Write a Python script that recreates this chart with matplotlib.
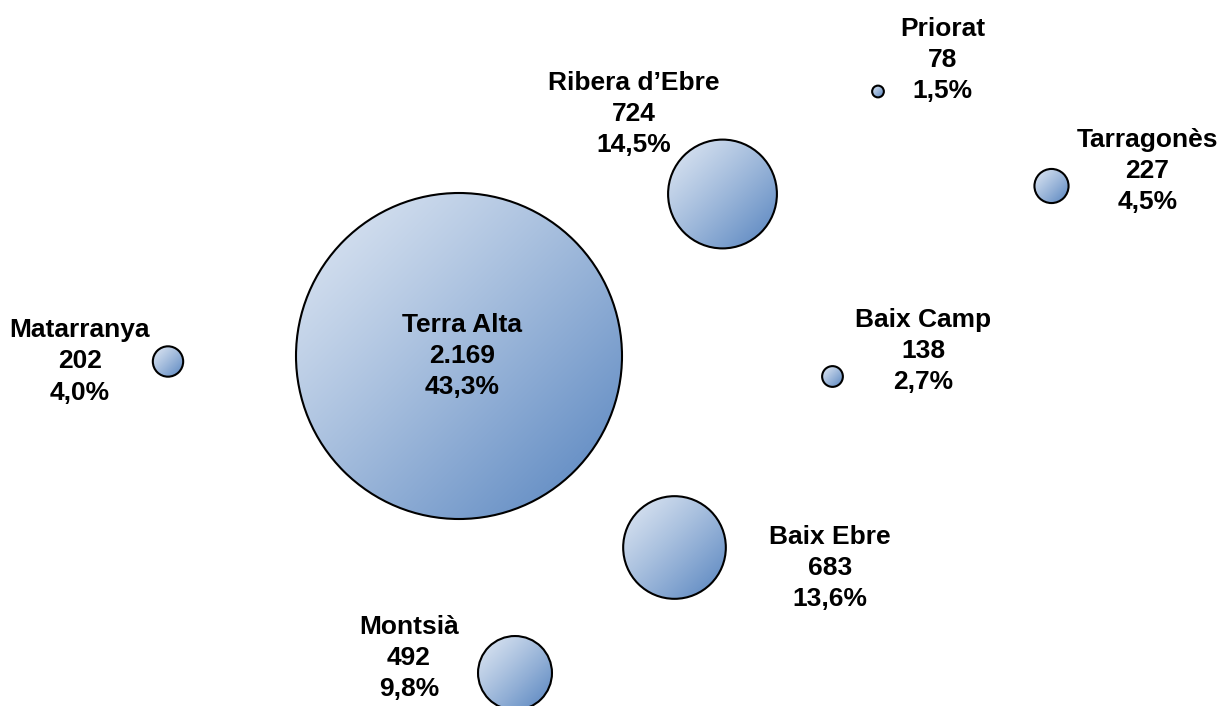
import numpy as np
import matplotlib
matplotlib.use('Agg')
import matplotlib.pyplot as plt
from matplotlib.patches import Circle

# comarques, x / y position of each bubble, count and share (%)
comarques = ['Terra Alta', 'Ribera d\u2019Ebre', 'Priorat', 'Tarragon\u00e8s',
             'Matarranya', 'Baix Camp', 'Baix Ebre', 'Montsi\u00e0']
xpos = [45.9, 72.25, 87.8, 105.15, 16.8, 83.25, 67.45, 51.5]
ypos = [35.0, 51.2, 61.45, 52.0, 34.45, 32.95, 15.85, 3.3]
valors = [2169, 724, 78, 227, 202, 138, 683, 492]
percent = [43.3, 14.5, 1.5, 4.5, 4.0, 2.7, 13.6, 9.8]

# label offsets (points) from the bubble centre
label_off = [(2, 0), (-63.7, 57.6), (46.5, 22.7), (69.1, 10.8),
             (-63.4, 0), (65.2, 18.4), (112, -14.8), (-76.3, 10.8)]

light = np.array([222, 231, 243]) / 255.
dark = np.array([84, 130, 190]) / 255.
size_scale = 163 / 2169 / 10.  # bubble width proportional to value


def fmt_int(v):
    return '{:,}'.format(v).replace(',', '.')


def fmt_pct(p):
    return '{:.1f}%'.format(p).replace('.', ',')


def gradient():
    n = 200
    u, v = np.meshgrid(np.linspace(0, 1, n), np.linspace(0, 1, n))
    t = ((u + v) / 2.) ** 1.15
    return light[None, None, :] + (dark - light)[None, None, :] * t[..., None]


fig = plt.figure(figsize=(12.24, 7.06), dpi=100)
ax = fig.add_axes([0, 0, 1, 1])
grad = gradient()

for name, x, y, val, pct, off in zip(comarques, xpos, ypos, valors, percent, label_off):
    r = val * size_scale
    im = ax.imshow(grad, extent=[x - r, x + r, y - r, y + r], origin='upper',
                   interpolation='bilinear', zorder=2)
    clip = Circle((x, y), r, transform=ax.transData)
    im.set_clip_path(clip)
    ax.add_patch(Circle((x, y), r, facecolor='none', edgecolor='black', lw=1.5, zorder=3))
    ax.annotate('%s\n%s\n%s' % (name, fmt_int(val), fmt_pct(pct)), xy=(x, y),
                xytext=off, textcoords='offset points', ha='center', va='center',
                fontsize=19, fontweight='bold', family='Liberation Sans',
                linespacing=1.37, zorder=4)

ax.set_xlim(0, 122.4)
ax.set_ylim(0, 70.6)
ax.set_aspect('auto')
ax.axis('off')

fig.savefig('out.png', dpi=100)
